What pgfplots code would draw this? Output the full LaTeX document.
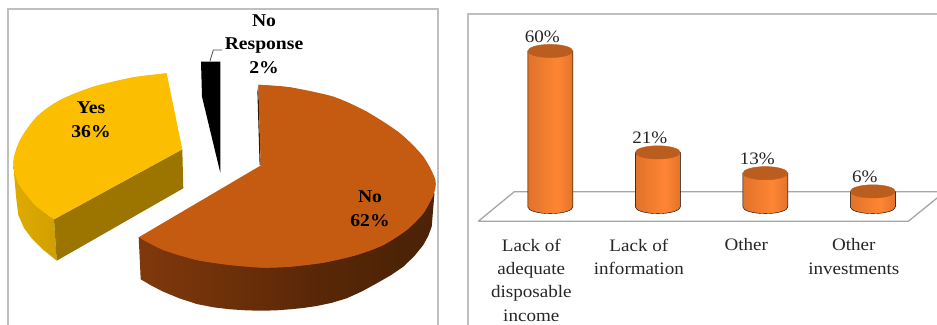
\documentclass[border=0pt]{standalone}
\usepackage{fontspec}
\setmainfont[FakeStretch=1.09]{Liberation Serif}
\usepackage{pgfplots}
\usepackage{pgfplotstable}
\pgfplotsset{compat=1.18}

\definecolor{panel}{HTML}{BFBFBF}
\definecolor{floorline}{HTML}{A6A6A6}
\definecolor{noTop}{HTML}{C55A11}
\definecolor{yesTop}{HTML}{FBBE00}
\definecolor{yesSide}{HTML}{9C7500}
\definecolor{cylTop}{HTML}{BA5D1E}
\definecolor{labelInk}{HTML}{262626}
\definecolor{noA}{HTML}{9A4711}
\definecolor{noB}{HTML}{74330A}
\definecolor{noC}{HTML}{592707}
\definecolor{noD}{HTML}{4C2306}
\definecolor{yesA}{HTML}{E6B100}
\definecolor{yesB}{HTML}{C99A00}
\definecolor{cylA}{HTML}{B25A1E}
\definecolor{cylB}{HTML}{DC7029}
\definecolor{cylC}{HTML}{FF8533}
\definecolor{cylD}{HTML}{D66C28}
\definecolor{cylE}{HTML}{A0501A}

% Wall shadings of the exploded pie
\pgfdeclarehorizontalshading{noWall}{100bp}{
  color(0bp)=(noA); color(35bp)=(noB); color(55bp)=(noC); color(70bp)=(noD); color(100bp)=(noD)}
\pgfdeclarehorizontalshading{yesWall}{100bp}{
  color(0bp)=(yesA); color(100bp)=(yesB)}
% Rounded body of a cylinder
\pgfdeclarehorizontalshading{cylBody}{100bp}{
  color(0bp)=(cylA); color(20bp)=(cylB); color(58bp)=(cylC); color(82bp)=(cylD); color(100bp)=(cylE)}

% One cylinder: the mark sits at the top centre, its length follows the value (2.6pt per unit)
\pgfdeclareplotmark{cylinder}{%
  \pgfmathsetmacro\cylh{\rawv*2.6}%
  \begin{scope}[yslant=0.09]
    \shade[shading=cylBody] (-22.5pt,0pt) -- (-22.5pt,-\cylh pt)
      arc[start angle=180,end angle=360,x radius=22.5pt,y radius=6.6pt]
      -- (22.5pt,0pt) -- cycle;
    \fill[cylTop] (0pt,0pt) ellipse[x radius=22.5pt,y radius=6.6pt];
  \end{scope}}

\pgfplotstableread{
i v
0 60
1 21
2 13
3 6
}\barrierdata

\begin{document}
\begin{tikzpicture}[x=1pt,y=1pt]
\useasboundingbox (0,0) rectangle (937,324);

% Exploded pie, in image-like coordinates with y running downward
\begin{axis}[
  at={(8pt,-6pt)},anchor=south west,scale only axis,
  width=430pt,height=321pt,
  xmin=8,xmax=438,ymin=9,ymax=330,y dir=reverse,
  clip=false,ticks=none,no marks,
  axis line style={draw=panel,line width=1.5pt},
]
% No: outer wall, spoke edge, top face polygon and its rounded rim in two runs
\addplot[shade,shading=noWall,draw=none] coordinates {
 (138.7,237.3)(140.7,279.3)(151.7,285.8)(163.3,291.7)(179.3,298.3)(196.7,304)(213.4,307.3)(230,309.3)(247,310.4)
 (263.3,310.7)(277,310.3)(290,309.3)(303.1,308)(316.7,306)(331.5,302.9)(346.7,298.3)(361.9,291.4)(376.7,283.3)
 (390.6,275.4)(403.3,266.7)(414.4,256)(423.3,245)(428.2,236)(431.7,226.7)(434.5,193)(300,200)(138.7,237.3)};
\addplot[fill=black!75!noTop,draw=none] coordinates {
 (258.3,85)(257.4,92)(259.6,165)(260.7,165)(258.3,85)};
\addplot[fill=noTop,draw=none] coordinates {
 (260.7,165.5)(258.3,84.8)(290,87.3)(333.3,96.7)(366.7,111.7)(400,133.3)(423.3,156.7)
 (435.3,180)(433.3,195)(423.3,213.3)(406.7,230)(383.3,245)(356.7,255)(323.3,262.7)(290,266.7)
 (263.3,267.7)(230,265)(196.7,260)(163.3,250)(138.7,237.3)(260.7,165.5)};
\addplot[fill=noTop,draw=none,smooth] coordinates {
 (258.3,84.8)(290,87.3)(333.3,96.7)(366.7,111.7)(400,133.3)(423.3,156.7)
 (435.3,180)(433.3,195)(423.3,213.3)};
\addplot[fill=noTop,draw=none,smooth] coordinates {
 (433.3,195)(423.3,213.3)(406.7,230)(383.3,245)(356.7,255)(323.3,262.7)(290,266.7)
 (263.3,267.7)(230,265)(196.7,260)(163.3,250)(138.7,237.3)};
% Yes: outer wall, cut face, top face polygon and its rounded rim
\addplot[shade,shading=yesWall,draw=none] coordinates {
 (13.4,165)(14.6,180)(16.2,198)(18.3,215)(24,228)(31.7,238.3)(43.5,250)(56.7,260.7)(54,219.3)(30,180)(13.4,165)};
\addplot[fill=yesSide,draw=none] coordinates {
 (54,219.3)(56.7,260.7)(183.3,188.3)(182.3,149.3)(54,219.3)};
\addplot[fill=yesTop,draw=none] coordinates {
 (166.7,73.3)(182.3,149.3)(54,219.3)(35,205)(18.3,183.3)(13.3,162)
 (20,140)(36.7,116.7)(60,100)(93.3,86.7)(133.3,77.3)(166.7,73.3)};
\addplot[fill=yesTop,draw=none,smooth] coordinates {
 (54,219.3)(35,205)(18.3,183.3)(13.3,162)
 (20,140)(36.7,116.7)(60,100)(93.3,86.7)(133.3,77.3)(166.7,73.3)};
% No Response: thin slice and its leader line
\addplot[fill=black,draw=none] coordinates {
 (201,61.7)(220.3,61.7)(220.3,172.7)(202,96.7)(201,61.7)};
\addplot[draw=black!70,line width=0.8pt] coordinates {
 (210,61)(213.3,50)(222,50)};
\node[align=center,font=\fontsize{18}{23.7}\selectfont\bfseries] at (axis cs:91,120) {Yes\\36\%};
\node[align=center,font=\fontsize{18}{23.7}\selectfont\bfseries] at (axis cs:370,208.5) {No\\62\%};
\node[align=center,font=\fontsize{18}{23.7}\selectfont\bfseries] at (axis cs:264,44) {No\\Response\\2\%};
\end{axis}

% Cylinder chart on a flat floor
\begin{axis}[
  at={(468pt,-6pt)},anchor=south west,scale only axis,
  width=532pt,height=316pt,
  xmin=-0.7656,xmax=4.183,ymin=-47.31,ymax=74.23,
  clip=false,
  axis line style={draw=panel,line width=1.5pt},
  ytick=\empty,
  xtick={0,1,2,3},
  xticklabels={{Lack of\\adequate\\disposable\\income},{Lack of\\information},{Other},{Other\\investments}},
  major tick length=0pt,
  xticklabel style={anchor=north,align=center,xshift=-19pt,yshift=91.5pt,text=labelInk,
    font=\fontsize{17.5}{23.4}\selectfont,inner sep=0pt},
]
\addplot[draw=floorline,line width=1.3pt,fill=white] coordinates {
 (-0.67,-5.5)(-0.335,5.88)(3.67,5.88)(3.33,-5.5)(-0.67,-5.5)};
\addplot[
  scatter,only marks,mark=cylinder,
  visualization depends on={\thisrow{v}\as\rawv},
  point meta=y,
  nodes near coords={\pgfmathprintnumber[assume math mode=true]{\pgfplotspointmeta}\%},
  nodes near coords style={anchor=center,xshift=-8pt,yshift=14.5pt,text=labelInk,
    font=\fontsize{17.5}{20}\selectfont,inner sep=0pt},
] table[x=i,y=v] {\barrierdata};
\end{axis}
\end{tikzpicture}
\end{document}
